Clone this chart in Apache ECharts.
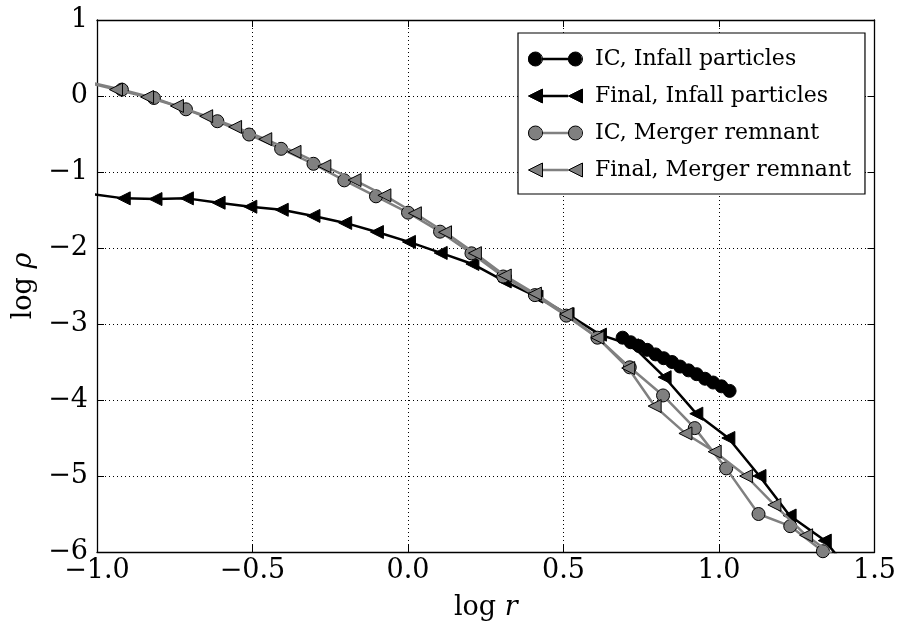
<!DOCTYPE html>
<html>
<head>
<meta charset="utf-8">
<title>log rho vs log r</title>
<script src="https://cdn.jsdelivr.net/npm/echarts@6/dist/echarts.min.js"></script>
<style>
  html, body { margin: 0; padding: 0; background: #fff; }
  #chart { width: 899px; height: 626px; }
</style>
</head>
<body>
<div id="chart"></div>
<script>
// Density profiles: log rho against log r
const icInfallR = [0.690, 0.716, 0.743, 0.769, 0.796, 0.822, 0.849, 0.875, 0.902, 0.928, 0.955, 0.981, 1.008, 1.034];
const icInfallRho = [-3.18, -3.24, -3.29, -3.34, -3.40, -3.45, -3.50, -3.56, -3.61, -3.66, -3.72, -3.77, -3.82, -3.88];

const finalInfallR = [-1.016, -0.914, -0.812, -0.711, -0.609, -0.507, -0.406, -0.304, -0.202, -0.100, 0.003, 0.105, 0.207, 0.311, 0.413, 0.513, 0.617, 0.720, 0.825, 0.927, 1.030, 1.130, 1.227, 1.340, 1.440];
const finalInfallRho = [-1.29, -1.347, -1.356, -1.347, -1.404, -1.457, -1.497, -1.578, -1.670, -1.790, -1.920, -2.065, -2.210, -2.440, -2.640, -2.870, -3.140, -3.280, -3.700, -4.180, -4.500, -5.000, -5.520, -5.850, -6.350];

const icMergerR = [-1.023, -0.920, -0.817, -0.714, -0.613, -0.511, -0.408, -0.304, -0.205, -0.103, 0.000, 0.103, 0.204, 0.306, 0.408, 0.509, 0.609, 0.713, 0.820, 0.922, 1.023, 1.127, 1.229, 1.334];
const icMergerRho = [0.18, 0.084, -0.026, -0.175, -0.332, -0.507, -0.695, -0.892, -1.110, -1.320, -1.535, -1.785, -2.070, -2.375, -2.620, -2.890, -3.180, -3.570, -3.940, -4.370, -4.900, -5.500, -5.660, -5.990];

const finalMergerR = [-1.035, -0.939, -0.839, -0.743, -0.649, -0.556, -0.459, -0.365, -0.269, -0.172, -0.076, 0.022, 0.119, 0.215, 0.311, 0.408, 0.509, 0.609, 0.708, 0.793, 0.892, 0.986, 1.087, 1.178, 1.280, 1.370];
const finalMergerRho = [0.18, 0.084, -0.013, -0.131, -0.266, -0.407, -0.568, -0.735, -0.923, -1.106, -1.307, -1.543, -1.793, -2.068, -2.362, -2.600, -2.870, -3.180, -3.580, -4.080, -4.440, -4.680, -5.000, -5.380, -5.780, -6.050];

const seriesNames = ['IC, Infall particles', 'Final, Infall particles', 'IC, Merger remnant', 'Final, Merger remnant'];
const xTickValues = [-1.0, -0.5, 0.0, 0.5, 1.0, 1.5];
const yTickValues = [1, 0, -1, -2, -3, -4, -5, -6];

const FONT = 'DejaVu Serif';
const BLACK = '#000000';
const GRAY = '#808080';

const zip = (xs, ys) => xs.map((x, i) => [x, ys[i]]);

// left-pointing triangle marker
const TRI_LEFT = 'path://M0,7 L14,0 L14,14 Z';

// legend icons: marker, connector, marker
const ICON_CIRCLES_LINE = 'path://M0,7 A7,7 0 1,1 14,7 A7,7 0 1,1 0,7 Z M14,5.75 L40,5.75 L40,8.25 L14,8.25 Z M40,7 A7,7 0 1,1 54,7 A7,7 0 1,1 40,7 Z';
const ICON_TRI_LINE = 'path://M0,7 L14,0 L14,14 Z M14,5.75 L40,5.75 L40,8.25 L14,8.25 Z M40,7 L54,0 L54,14 Z';
const ICON_CIRCLES = 'path://M0,7 A7,7 0 1,1 14,7 A7,7 0 1,1 0,7 Z M40,7 A7,7 0 1,1 54,7 A7,7 0 1,1 40,7 Z';
const ICON_TRIS = 'path://M0,7 L14,0 L14,14 Z M40,7 L54,0 L54,14 Z';

const minusFmt = (v, digits) => {
  const s = digits ? Math.abs(v).toFixed(digits) : String(Math.abs(v));
  return (v < 0 ? '\u2212' : '') + s;
};

const chart = echarts.init(document.getElementById('chart'), null, { renderer: 'canvas' });

const legendCommon = {
  orient: 'vertical',
  left: 518,
  top: 33,
  itemWidth: 54,
  itemHeight: 14,
  itemGap: 11,
  padding: [13, 14, 11, 10],
  selectedMode: false,
  textStyle: { fontFamily: FONT, fontSize: 22, lineHeight: 26, padding: [0, 0, 0, 8] }
};

const nameStyle = {
  fontFamily: FONT, fontSize: 27, color: BLACK,
  rich: {
    n: { fontFamily: FONT, fontSize: 27, color: BLACK },
    i: { fontFamily: FONT, fontSize: 27, fontStyle: 'italic', color: BLACK }
  }
};

const option = {
  animation: false,
  backgroundColor: '#ffffff',
  grid: { left: 97, right: 22, top: 20, bottom: 73, containLabel: false },
  legend: [
    Object.assign({}, legendCommon, {
      backgroundColor: '#ffffff',
      borderColor: BLACK,
      borderWidth: 1.2,
      textStyle: Object.assign({}, legendCommon.textStyle, { color: BLACK }),
      data: [
        { name: seriesNames[0], icon: ICON_CIRCLES_LINE, itemStyle: { color: BLACK, borderWidth: 0 } },
        { name: seriesNames[1], icon: ICON_TRI_LINE, itemStyle: { color: BLACK, borderWidth: 0 } },
        { name: seriesNames[2], icon: ICON_CIRCLES_LINE, itemStyle: { color: GRAY, borderWidth: 0 } },
        { name: seriesNames[3], icon: ICON_TRI_LINE, itemStyle: { color: GRAY, borderWidth: 0 } }
      ]
    }),
    // marker outlines drawn over the legend icons
    Object.assign({}, legendCommon, {
      z: 10,
      textStyle: Object.assign({}, legendCommon.textStyle, { color: 'rgba(0,0,0,0)' }),
      data: [
        { name: seriesNames[0], icon: ICON_CIRCLES, itemStyle: { color: 'rgba(0,0,0,0)', borderColor: BLACK, borderWidth: 1 } },
        { name: seriesNames[1], icon: ICON_TRIS, itemStyle: { color: 'rgba(0,0,0,0)', borderColor: BLACK, borderWidth: 1 } },
        { name: seriesNames[2], icon: ICON_CIRCLES, itemStyle: { color: 'rgba(0,0,0,0)', borderColor: BLACK, borderWidth: 1 } },
        { name: seriesNames[3], icon: ICON_TRIS, itemStyle: { color: 'rgba(0,0,0,0)', borderColor: BLACK, borderWidth: 1 } }
      ]
    })
  ],
  xAxis: [
    {
      type: 'value', min: -1.0, max: 1.5, interval: 0.5, position: 'bottom',
      name: '{n|log} {i|r}', nameLocation: 'middle', nameGap: 42,
      nameTextStyle: nameStyle,
      axisLine: { show: true, onZero: false, lineStyle: { color: BLACK, width: 1.3 } },
      axisTick: { show: true, inside: true, length: 7, lineStyle: { color: BLACK, width: 1 } },
      axisLabel: { fontFamily: FONT, fontSize: 27, color: BLACK, margin: 5, formatter: v => minusFmt(v, 1), showMinLabel: true, showMaxLabel: true },
      splitLine: { show: true, lineStyle: { color: BLACK, width: 1, type: [1, 3] } }
    },
    {
      type: 'value', min: -1.0, max: 1.5, interval: 0.5, position: 'top',
      axisLine: { show: true, onZero: false, lineStyle: { color: BLACK, width: 1.3 } },
      axisTick: { show: true, inside: true, length: 7, lineStyle: { color: BLACK, width: 1 } },
      axisLabel: { show: false },
      splitLine: { show: false }
    }
  ],
  yAxis: [
    {
      type: 'value', min: -6, max: 1, interval: 1, position: 'left',
      name: '{n|log} {i|ρ}', nameLocation: 'middle', nameGap: 60, nameRotate: 90,
      nameTextStyle: nameStyle,
      axisLine: { show: true, onZero: false, lineStyle: { color: BLACK, width: 1.3 } },
      axisTick: { show: true, inside: true, length: 7, lineStyle: { color: BLACK, width: 1 } },
      axisLabel: { fontFamily: FONT, fontSize: 27, color: BLACK, margin: 9, formatter: v => minusFmt(v, 0), showMinLabel: true, showMaxLabel: true },
      splitLine: { show: true, lineStyle: { color: BLACK, width: 1, type: [1, 3] } }
    },
    {
      type: 'value', min: -6, max: 1, interval: 1, position: 'right',
      axisLine: { show: true, onZero: false, lineStyle: { color: BLACK, width: 1.3 } },
      axisTick: { show: true, inside: true, length: 7, lineStyle: { color: BLACK, width: 1 } },
      axisLabel: { show: false },
      splitLine: { show: false }
    }
  ],
  series: [
    {
      name: seriesNames[0], type: 'line', z: 5, clip: true,
      data: zip(icInfallR, icInfallRho),
      symbol: 'circle', symbolSize: 13, showAllSymbol: true,
      lineStyle: { color: BLACK, width: 2.5 },
      itemStyle: { color: BLACK, borderColor: BLACK, borderWidth: 1 }
    },
    {
      name: seriesNames[1], type: 'line', z: 2, clip: true,
      data: zip(finalInfallR, finalInfallRho),
      symbol: TRI_LEFT, symbolSize: 13, showAllSymbol: true,
      lineStyle: { color: BLACK, width: 2.5 },
      itemStyle: { color: BLACK, borderColor: BLACK, borderWidth: 1 }
    },
    {
      name: seriesNames[2], type: 'line', z: 3, clip: true,
      data: zip(icMergerR, icMergerRho),
      symbol: 'circle', symbolSize: 13, showAllSymbol: true,
      lineStyle: { color: GRAY, width: 2.5 },
      itemStyle: { color: GRAY, borderColor: BLACK, borderWidth: 1 }
    },
    {
      name: seriesNames[3], type: 'line', z: 4, clip: true,
      data: zip(finalMergerR, finalMergerRho),
      symbol: TRI_LEFT, symbolSize: 13, showAllSymbol: true,
      lineStyle: { color: GRAY, width: 2.5 },
      itemStyle: { color: GRAY, borderColor: BLACK, borderWidth: 1 }
    }
  ]
};

chart.setOption(option);
</script>
</body>
</html>
